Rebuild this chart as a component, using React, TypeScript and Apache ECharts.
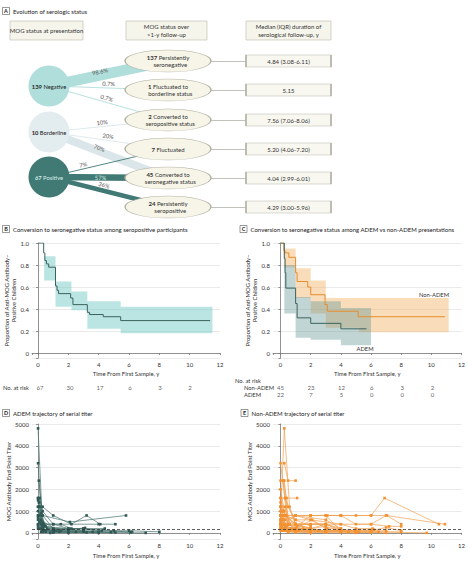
import React, { useEffect, useRef } from 'react';
import * as echarts from 'echarts';

const FONT = "Lato, 'DejaVu Sans', sans-serif";

// ---------------- Panel A data ----------------
const presentationStatus = ['Negative', 'Borderline', 'Positive'];
const presentationCounts = [139, 10, 67];
const outcomeCounts = [137, 1, 2, 7, 45, 24];
const outcomeLabels = [
  'Persistently\nseronegative',
  'Fluctuated to\nborderline status',
  'Converted to\nseropositive status',
  'Fluctuated',
  'Converted to\nseronegative status',
  'Persistently\nseropositive',
];
const followUpMedians = ['4.84 (3.08-6.11)', '5.15', '7.56 (7.06-8.06)', '5.20 (4.06-7.20)', '4.04 (2.99-6.01)', '4.29 (3.00-5.96)'];
const flowFrom = [0, 0, 0, 1, 1, 1, 2, 2, 2];
const flowTo = [0, 1, 2, 2, 3, 4, 3, 4, 5];
const flowPercents = [98.6, 0.7, 0.7, 10, 20, 70, 7, 57, 36];
const headerLabels = ['MOG status at presentation', 'MOG status over\n>1-y follow-up', 'Median (IQR) duration of\nserological follow-up, y'];

// ---------------- Panel B data ----------------
const kmAllTimes = [0, 0.37, 0.45, 0.55, 0.7, 1.15, 1.25, 1.35, 2.15, 2.3, 3.25, 3.4, 4.3, 5.45, 11.35];
const kmAllSurv = [1, 0.91, 0.84, 0.81, 0.78, 0.61, 0.57, 0.54, 0.5, 0.44, 0.37, 0.35, 0.33, 0.295, 0.295];
const ciAllTimes = [0.4, 1.15, 2.2, 3.25, 5.45, 11.5];
const ciAllUpper = [0.88, 0.65, 0.56, 0.47, 0.42];
const ciAllLower = [0.66, 0.42, 0.39, 0.22, 0.18];
const riskTimes = [0, 2, 4, 6, 8, 10];
const riskAll = [67, 30, 17, 6, 3, 2];

// ---------------- Panel C data ----------------
const kmNonAdemTimes = [0, 0.22, 0.3, 0.55, 1.0, 1.1, 1.8, 2.0, 2.95, 3.1, 5.15, 10.9];
const kmNonAdemSurv = [1, 0.93, 0.91, 0.87, 0.73, 0.65, 0.6, 0.53, 0.44, 0.38, 0.33, 0.33];
const ciNonAdemTimes = [0.22, 1.0, 2.0, 3.0, 5.2, 11.15];
const ciNonAdemUpper = [0.95, 0.77, 0.66, 0.5, 0.5];
const ciNonAdemLower = [0.78, 0.5, 0.36, 0.23, 0.19];
const kmAdemTimes = [0, 0.25, 0.3, 0.35, 1.0, 1.1, 2.0, 4.0, 5.7];
const kmAdemSurv = [1, 0.86, 0.73, 0.59, 0.45, 0.32, 0.27, 0.22, 0.22];
const ciAdemTimes = [0.25, 1.0, 2.0, 4.0, 6.0];
const ciAdemUpper = [0.8, 0.51, 0.47, 0.41];
const ciAdemLower = [0.36, 0.14, 0.12, 0.07];
const riskGroups = ['Non-ADEM', 'ADEM'];
const riskNonAdem = [45, 23, 12, 6, 3, 2];
const riskAdem = [22, 7, 5, 0, 0, 0];

// ---------------- Panel D / E data ----------------
const titerCutoff = 160;
const ademTrajectories = [
  [[0, 4800], [0.3, 200], [1.0, 50]],
  [[0, 3200], [0.25, 400], [1.0, 100], [2.0, 50]],
  [[0.05, 2400], [0.3, 800], [1.0, 200], [3.0, 100]],
  [[0, 1600], [0.3, 1200], [1.0, 800], [2.2, 400], [3.2, 800], [4.1, 400]],
  [[0, 1600], [0.3, 800], [2.1, 500], [5.8, 800]],
  [[0, 1500], [0.3, 400], [1.5, 400], [2.2, 200], [4.4, 200]],
  [[0.1, 1200], [0.4, 400], [1.0, 400], [4.0, 400], [5.1, 400]],
  [[0, 1200], [0.2, 600], [1.0, 200], [3.0, 200], [4.2, 100]],
  [[0, 800], [0.3, 200], [1.0, 100], [3.6, 50], [6.2, 50]],
  [[0, 800], [0.2, 400], [0.5, 100], [2.0, 100], [4.0, 50]],
  [[0, 400], [0.3, 100], [1.0, 50], [3.0, 50], [5.1, 20]],
  [[0, 400], [0.1, 200], [0.5, 50], [2.0, 20], [7.1, 0]],
  [[0.1, 1600], [0.3, 1000], [1.0, 400], [2.0, 200], [3.0, 200]],
  [[0, 1200], [0.25, 300], [1.2, 100], [3.0, 100], [6.0, 100], [8.0, 50]],
  [[0.1, 800], [0.3, 50], [1.0, 20], [2.0, 0]],
  [[0, 600], [0.2, 200], [1.0, 50], [3.2, 20], [4.0, 0]],
  [[0, 1000], [0.3, 500], [0.6, 200], [2.0, 150], [3.1, 230]],
  [[0.05, 1400], [0.2, 900], [0.5, 300], [1.5, 100]],
  [[0, 200], [0.5, 100], [2.5, 50]],
  [[0.1, 500], [0.3, 150], [1.4, 50], [4.8, 30]],
  [[0, 700], [0.4, 300], [2.0, 200], [5.0, 100], [6.1, 20]],
  [[0, 300], [0.2, 50], [0.8, 0]],
];
const nonAdemTrajectories = [
  [[0, 800], [0.25, 4800], [0.6, 1200], [1.0, 400], [2.0, 200]],
  [[0, 3200], [0.3, 1600], [1.0, 400], [2.0, 100]],
  [[0.25, 3200], [0.5, 2400], [1.0, 2400]],
  [[0.15, 2400], [0.4, 800], [1.0, 400], [3.0, 400], [4.0, 100]],
  [[0, 1600], [0.4, 1600], [1.1, 1600]],
  [[0.05, 1200], [0.3, 800], [1.0, 800], [2.0, 800], [3.0, 800], [4.0, 800], [5.0, 800], [6.0, 800], [6.9, 1600], [10.5, 400]],
  [[0, 2400], [0.25, 2400], [0.5, 400], [1.0, 200], [3.0, 100]],
  [[0, 1200], [0.3, 400], [1.1, 300], [2.0, 800], [3.0, 800], [4.0, 100]],
  [[0, 800], [0.2, 400], [1.0, 800], [2.0, 800], [4.0, 800], [6.0, 800], [7.05, 800], [8.0, 400]],
  [[0.1, 1000], [0.3, 200], [1.0, 100], [2.0, 50]],
  [[0, 600], [0.3, 800], [1.0, 600], [2.0, 600], [3.0, 200], [5.0, 100]],
  [[0, 400], [0.2, 200], [1.0, 100], [3.0, 50], [5.0, 50], [7.0, 0]],
  [[0, 1600], [0.25, 1000], [0.5, 400], [2.0, 400], [3.0, 400], [4.0, 200]],
  [[0.1, 800], [0.3, 300], [1.0, 200], [2.0, 100], [3.0, 100], [4.0, 50], [5.2, 50]],
  [[0, 200], [0.3, 100], [1.0, 50], [3.0, 20]],
  [[0, 400], [0.25, 400], [0.6, 100], [2.0, 50], [6.0, 50], [9.7, 0]],
  [[0, 1200], [0.25, 600], [1.0, 400], [2.0, 200], [3.0, 400], [4.0, 150]],
  [[0, 800], [0.1, 200], [0.5, 50], [1.0, 20]],
  [[0.3, 1600], [0.6, 400], [1.0, 200], [2.1, 600], [3.1, 200]],
  [[0, 600], [0.3, 300], [1.0, 150], [2.0, 100], [3.0, 100], [4.0, 100], [5.0, 100]],
  [[0, 400], [0.2, 800], [1.0, 400], [2.0, 400], [4.0, 400], [5.0, 200], [6.1, 200]],
  [[0, 2000], [0.3, 800], [1.0, 400], [3.0, 400], [3.1, 800], [4.0, 800], [5.0, 400], [6.0, 400], [7.2, 300], [8.0, 300]],
  [[0.1, 300], [0.4, 100], [2.0, 100], [4.0, 80]],
  [[0, 800], [0.3, 200], [0.8, 150], [3.0, 100], [6.0, 100], [7.0, 250], [8.0, 100]],
  [[0, 1400], [0.2, 1000], [0.5, 400], [1.5, 200], [2.5, 100]],
  [[0, 200], [0.3, 200], [2.0, 100], [6.2, 150]],
  [[0, 600], [0.2, 100], [1.0, 50], [2.0, 0]],
  [[0.05, 1000], [0.3, 600], [1.0, 800], [3.0, 600], [4.0, 200]],
  [[0, 800], [0.3, 400], [1.0, 400], [2.0, 200], [3.0, 100], [5.0, 50], [8.0, 50]],
  [[0, 400], [0.4, 300], [1.2, 100], [3.0, 50]],
  [[0, 1200], [0.3, 1200], [0.6, 400], [1.0, 100]],
  [[0, 300], [0.1, 100], [1.0, 100], [3.0, 50], [4.0, 50], [6.0, 20]],
  [[0, 800], [0.25, 800], [1.0, 800], [2.0, 600], [4.0, 400], [6.0, 400], [7.0, 800], [10.9, 400]],
  [[0.2, 2400], [0.5, 1200], [1.0, 600], [2.0, 300]],
  [[0, 100], [0.5, 50], [2.0, 20], [5.0, 0]],
  [[0, 1000], [0.2, 400], [0.7, 200], [2.5, 100], [4.5, 50], [6.5, 50]],
  [[0.1, 600], [0.3, 200], [1.0, 100], [4.0, 100], [4.5, 50]],
  [[0, 500], [0.2, 200], [2.0, 200], [3.0, 300], [4.0, 100], [7.0, 100]],
];

// ---------------- layout & style constants ----------------
const W = 468;
const H = 564;
const A_H = 230;
const CIRCLE_X = 49;
const CIRCLE_Y = [86, 132, 177];
const ELL_X = 168;
const ELL_Y = [61, 90, 120, 149, 178, 207];
const BOX_X = 288.5;
const CIRCLE_COLORS = ['#b0dedb', '#e3ecef', '#417a74'];
const FLOW_COLORS = ['#b0dedb', '#dbe6ea', '#417a74'];
const CIRCLE_TEXT = ['#222', '#222', '#d4ece9'];
// label shift along the flow (padding on the right) and distance from the flow line
const FLOW_LABEL_SHIFT = [16, 0, 6, 12, 2, 22, 50, 16, 12];
const FLOW_LABEL_DIST = [1, 1.5, 1.5, 1.5, 1.5, 0.5, 1.5, -3, 3];
const TEAL = '#3c625e';
const ORANGE = '#e68d2c';
const ORANGE_PT = '#f29233';
const ELLIPSE_PATH = 'path://M0 10A10 10 0 1 1 20 10A10 10 0 1 1 0 10Z';

const txt = { fontSize: 6, color: '#333', fontFamily: FONT };
const nameTxt = { fontSize: 5.9, color: '#333', fontFamily: FONT };

function buildOption() {
  // ----- panel A graph -----
  const nodes: any[] = [];
  presentationStatus.forEach((s, i) => {
    nodes.push({
      name: 'p' + i,
      value: [CIRCLE_X, CIRCLE_Y[i]],
      symbol: 'circle',
      symbolSize: 41,
      itemStyle: { color: CIRCLE_COLORS[i] },
      label: {
        show: true,
        formatter: `{n|${presentationCounts[i]}} ${s}`,
        ...txt,
        fontSize: 5.8,
        color: CIRCLE_TEXT[i],
        rich: { n: { ...txt, fontSize: 5.8, color: CIRCLE_TEXT[i], fontWeight: 'bold' } },
      },
    });
  });
  outcomeCounts.forEach((c, i) => {
    const lines = outcomeLabels[i].split('\n');
    const f = lines.length > 1 ? `{n|${c}} ${lines[0]}\n   ${lines[1]}` : `{n|${c}} ${lines[0]}`;
    nodes.push({
      name: 'o' + i,
      value: [ELL_X, ELL_Y[i]],
      symbol: ELLIPSE_PATH,
      symbolSize: [86, 22],
      itemStyle: { color: '#f6f5e8', borderColor: '#b3b1a2', borderWidth: 0.7 },
      label: { show: true, formatter: f, ...txt, lineHeight: 7.5, rich: { n: { ...txt, fontWeight: 'bold', lineHeight: 7.5 } } },
    });
  });
  followUpMedians.forEach((m, i) => {
    nodes.push({
      name: 'r' + i,
      value: [BOX_X, ELL_Y[i]],
      symbol: 'rect',
      symbolSize: [85, 12],
      itemStyle: { color: '#f8f7f0', borderColor: '#b9b8ad', borderWidth: 0.7 },
      label: { show: true, formatter: m, ...txt },
    });
  });
  const links: any[] = [];
  flowPercents.forEach((p, k) => {
    const big = p >= 30;
    const inside = FLOW_LABEL_DIST[k] < 0;
    links.push({
      source: 'p' + flowFrom[k],
      target: 'o' + flowTo[k],
      lineStyle: { width: big ? 4.5 + (p - 36) * 0.1 : 0.9, color: FLOW_COLORS[flowFrom[k]], opacity: 1 },
      label: {
        show: true,
        position: 'middle',
        formatter: p + '%',
        fontSize: 5.8,
        fontFamily: FONT,
        color: inside ? '#cfe9e6' : '#555',
        distance: FLOW_LABEL_DIST[k],
        padding: [0, FLOW_LABEL_SHIFT[k], 0, 0],
      },
    });
  });
  outcomeCounts.forEach((_, i) => {
    links.push({ source: 'o' + i, target: 'r' + i, lineStyle: { width: 0.7, color: '#a8a8a0', opacity: 1 }, label: { show: false } });
  });

  // ----- axes helpers -----
  const axLine = { show: true, lineStyle: { color: '#777', width: 0.8 } };
  const axTick = { show: true, length: 2, lineStyle: { color: '#777', width: 0.8 } };
  const mainX = (g: number, min: number, nameGap: number) => ({
    type: 'value', gridIndex: g, min, max: 12, splitNumber: 6,
    axisLine: axLine, axisTick: axTick, splitLine: { show: false },
    axisLabel: { ...txt, margin: 3, formatter: (v: number) => (v < 0 ? '' : String(v)) },
    name: 'Time From First Sample, y', nameLocation: 'middle', nameGap,
    nameTextStyle: nameTxt,
  });
  const kmY = (g: number, nameGap: number) => ({
    type: 'value', gridIndex: g, min: -0.045, max: 1, splitNumber: 5,
    axisLine: axLine, axisTick: axTick,
    splitLine: { show: true, lineStyle: { color: '#e4e4e4', width: 0.8 } },
    axisLabel: { ...txt, margin: 3, formatter: (v: number) => (v < 0 ? '' : v === 0 ? '0' : v.toFixed(1)) },
    name: 'Proportion of Anti-MOG Antibody–\nPositive Children', nameLocation: 'middle', nameGap,
    nameTextStyle: { ...nameTxt, lineHeight: 7 },
  });
  const titerY = (g: number, nameGap: number) => ({
    type: 'value', gridIndex: g, min: -280, max: 5000, splitNumber: 5,
    axisLine: axLine, axisTick: axTick,
    splitLine: { show: true, lineStyle: { color: '#e4e4e4', width: 0.8 } },
    axisLabel: { ...txt, margin: 3, formatter: (v: number) => (v < 0 ? '' : String(v)) },
    name: 'MOG Antibody End Point Titer', nameLocation: 'middle', nameGap,
    nameTextStyle: nameTxt,
  });
  const hiddenX = (g: number, min: number) => ({ type: 'value', gridIndex: g, min, max: 12, show: false });
  const riskY = (g: number, cats: string[], margin: number) => ({
    type: 'category', gridIndex: g, data: cats, inverse: true,
    axisLine: { show: false }, axisTick: { show: false }, splitLine: { show: false },
    axisLabel: { ...txt, fontSize: 5.8, align: 'left', margin, interval: 0, hideOverlap: false },
  });

  const km = (g: number, times: number[], surv: number[], color: string) => ({
    type: 'line', xAxisIndex: g, yAxisIndex: g, step: 'end', symbol: 'none', silent: true, z: 4,
    data: times.map((t, i) => [t, surv[i]]), lineStyle: { color, width: 1 },
  });
  const band = (g: number, times: number[], lower: number[], upper: number[], color: string) => ({
    type: 'custom', xAxisIndex: g, yAxisIndex: g, silent: true, z: 2,
    data: [[times[0], lower[0]]],
    renderItem: (_p: any, api: any) => {
      const pts: number[][] = [];
      for (let i = 0; i < upper.length; i++) {
        pts.push(api.coord([times[i], upper[i]]));
        pts.push(api.coord([times[i + 1], upper[i]]));
      }
      for (let i = lower.length - 1; i >= 0; i--) {
        pts.push(api.coord([times[i + 1], lower[i]]));
        pts.push(api.coord([times[i], lower[i]]));
      }
      return { type: 'polygon', shape: { points: pts }, style: { fill: color } };
    },
  });
  const riskSeries = (g: number, cat: string, vals: number[]) => ({
    type: 'scatter', xAxisIndex: g, yAxisIndex: g, symbolSize: 1, silent: true,
    itemStyle: { color: 'rgba(0,0,0,0)' },
    data: riskTimes.map((t, i) => [t, cat, vals[i]]),
    label: { show: true, position: 'inside', ...txt, formatter: (p: any) => String(p.value[2]) },
  });
  const traj = (g: number, list: number[][][], color: string, lineColor: string) =>
    list.map((tr, i) => ({
      type: 'line', xAxisIndex: g, yAxisIndex: g, silent: true, z: 3,
      data: tr, symbol: 'rect', symbolSize: 2.6, showSymbol: true,
      lineStyle: { width: 0.7, color: lineColor }, itemStyle: { color },
      markLine: i === 0 ? {
        silent: true, symbol: ['none', 'none'], label: { show: false },
        lineStyle: { type: [3, 2], color: '#333', width: 0.8 },
        data: [{ yAxis: titerCutoff }],
      } : undefined,
    }));

  // ----- graphics (titles, headers) -----
  const graphics: any[] = [];
  const tag = (letter: string, x: number, y: number, title: string) => {
    graphics.push({ type: 'rect', shape: { x, y, width: 7, height: 7 }, style: { fill: '#fff', stroke: '#555', lineWidth: 0.6 } });
    graphics.push({ type: 'text', x: x + 3.5, y: y + 3.8, style: { text: letter, fontSize: 5.5, fontWeight: 'bold', fill: '#222', align: 'center', verticalAlign: 'middle', fontFamily: FONT } });
    graphics.push({ type: 'text', x: x + 10.5, y: y + 3.8, style: { text: title, fontSize: 6, fill: '#222', align: 'left', verticalAlign: 'middle', fontFamily: FONT } });
  };
  tag('A', 2.5, 7.5, 'Evolution of serologic status');
  tag('B', 2.5, 225.5, 'Conversion to seronegative status among seropositive participants');
  tag('C', 240, 225.5, 'Conversion to seronegative status among ADEM vs non-ADEM presentations');
  tag('D', 2.5, 409.5, 'ADEM trajectory of serial titer');
  tag('E', 241, 409.5, 'Non-ADEM trajectory of serial titer');
  const headerBoxes = [[10, 21, 73, 19], [126, 21, 81, 19], [246, 21, 85, 19]];
  headerLabels.forEach((h, i) => {
    const [x, y, w, hh] = headerBoxes[i];
    graphics.push({ type: 'rect', shape: { x, y, width: w, height: hh }, style: { fill: '#f6f5ec', stroke: '#c4c2b5', lineWidth: 0.7 } });
    graphics.push({ type: 'text', x: x + w / 2, y: y + hh / 2, style: { text: h, fontSize: 6, lineHeight: 7.5, fill: '#333', align: 'center', verticalAlign: 'middle', fontFamily: FONT } });
  });
  graphics.push({ type: 'text', x: 235, y: 380, style: { text: 'No. at risk', fontSize: 5.8, fill: '#333', fontFamily: FONT, align: 'left', verticalAlign: 'middle' } });
  graphics.push({ type: 'text', x: 434, y: 294, style: { text: 'Non-ADEM', fontSize: 5.8, fill: '#333', fontFamily: FONT, align: 'center', verticalAlign: 'middle' } });
  graphics.push({ type: 'text', x: 365, y: 348, style: { text: 'ADEM', fontSize: 5.8, fill: '#333', fontFamily: FONT, align: 'center', verticalAlign: 'middle' } });

  return {
    animation: false,
    textStyle: { fontFamily: FONT },
    grid: [
      { left: 0, top: 0, width: W, height: A_H },
      { left: 32, top: 243, width: 188, height: 115 },
      { left: 32, top: 383, width: 188, height: 8 },
      { left: 273, top: 243, width: 190, height: 115 },
      { left: 273, top: 383.5, width: 190, height: 14 },
      { left: 32, top: 424, width: 188, height: 115 },
      { left: 273, top: 424, width: 190, height: 115 },
    ],
    xAxis: [
      { type: 'value', gridIndex: 0, min: 0, max: W, show: false },
      mainX(1, -0.4, 12),
      hiddenX(2, -0.4),
      mainX(3, -0.5, 12),
      hiddenX(4, -0.5),
      mainX(5, -0.4, 13),
      mainX(6, -0.5, 13),
    ],
    yAxis: [
      { type: 'value', gridIndex: 0, min: 0, max: A_H, inverse: true, show: false },
      kmY(1, 15),
      riskY(2, ['No. at risk'], 31),
      kmY(3, 13),
      riskY(4, riskGroups, 29),
      titerY(5, 19),
      titerY(6, 18),
    ],
    graphic: graphics,
    series: [
      {
        type: 'graph', coordinateSystem: 'cartesian2d', xAxisIndex: 0, yAxisIndex: 0,
        layout: 'none', silent: true, z: 2, edgeSymbol: ['none', 'none'],
        label: { show: true, position: 'inside' },
        emphasis: { disabled: true },
        data: nodes, links,
      },
      band(1, ciAllTimes, ciAllLower, ciAllUpper, 'rgba(120,203,198,0.5)'),
      km(1, kmAllTimes, kmAllSurv, TEAL),
      riskSeries(2, 'No. at risk', riskAll),
      band(3, ciNonAdemTimes, ciNonAdemLower, ciNonAdemUpper, 'rgba(240,175,90,0.42)'),
      band(3, ciAdemTimes, ciAdemLower, ciAdemUpper, 'rgba(100,150,150,0.4)'),
      km(3, kmNonAdemTimes, kmNonAdemSurv, ORANGE),
      km(3, kmAdemTimes, kmAdemSurv, TEAL),
      riskSeries(4, 'Non-ADEM', riskNonAdem),
      riskSeries(4, 'ADEM', riskAdem),
      ...traj(5, ademTrajectories, '#2f5854', '#46716c'),
      ...traj(6, nonAdemTrajectories, ORANGE_PT, '#f0a050'),
    ],
  };
}

export default function App() {
  const ref = useRef<HTMLDivElement>(null);
  useEffect(() => {
    if (!ref.current) return;
    const chart = echarts.init(ref.current, undefined, { renderer: 'svg' });
    chart.setOption(buildOption() as any);
    return () => chart.dispose();
  }, []);
  return (
    <div
      ref={ref}
      style={{ position: 'absolute', left: 0, top: 0, width: W, height: H, background: '#fff' }}
    />
  );
}
